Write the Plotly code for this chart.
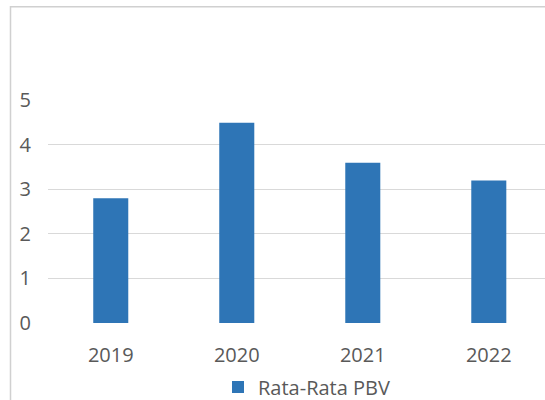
import plotly.graph_objects as go

years = ["2019", "2020", "2021", "2022"]
pbv = [2.8, 4.5, 3.6, 3.2]
series_name = "Rata-Rata PBV"
y_ticks = [0, 1, 2, 3, 4, 5]

W, H = 545, 400
L, R_EDGE = 48, 545
TOP, BOT = 100, 323.3
pw = R_EDGE - L
ph = BOT - TOP

def px_x(x):
    return (x - L) / pw

def px_y(y):
    return (BOT - y) / ph

fig = go.Figure()
fig.add_trace(go.Bar(
    x=years, y=pbv, name=series_name,
    marker=dict(color="#2e75b6", line=dict(width=0)),
    width=0.278,
))

font = "Open Sans, Liberation Sans, Arial, sans-serif"
fig.update_layout(
    width=W, height=H,
    margin=dict(l=L, r=W - R_EDGE, t=TOP, b=H - BOT, autoexpand=False),
    paper_bgcolor="white", plot_bgcolor="white",
    showlegend=True,
    legend=dict(
        orientation="h",
        xref="container", yref="container",
        x=218 / W, xanchor="left",
        y=1 - 387 / H, yanchor="middle",
        font=dict(family=font, size=20, color="#595959"),
        bgcolor="rgba(0,0,0,0)",
    ),
    xaxis=dict(
        range=[-0.498, 3.446],
        showgrid=False, zeroline=False, showline=False,
        ticks="", ticklabelstandoff=18,
        tickfont=dict(family=font, size=20, color="#595959"),
    ),
    yaxis=dict(
        range=[0, 5.01],
        tickvals=y_ticks,
        showgrid=True, gridcolor="#d9d9d9", gridwidth=1,
        zeroline=False, showline=False,
        ticks="", ticklabelstandoff=16,
        tickfont=dict(family=font, size=20, color="#595959"),
    ),
    shapes=[dict(
        type="rect", xref="paper", yref="paper",
        x0=px_x(10.5), x1=px_x(560),
        y0=px_y(420), y1=px_y(6.5),
        line=dict(color="#d0d0d0", width=1.5),
        fillcolor="rgba(0,0,0,0)", layer="below",
    )],
)

fig.write_html("out.html")
